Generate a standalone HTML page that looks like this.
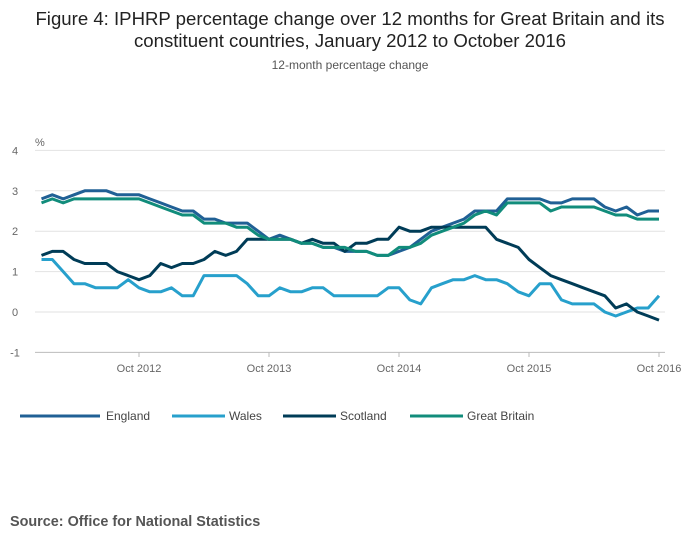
<!DOCTYPE html>
<html><head><meta charset="utf-8"><style>
body{margin:0;background:#fff;font-family:"Liberation Sans",sans-serif;}
</style></head><body>
<svg width="700" height="549" xmlns="http://www.w3.org/2000/svg">
<text x="350" y="25" text-anchor="middle" font-size="18.6" fill="#222">Figure 4: IPHRP percentage change over 12 months for Great Britain and its</text>
<text x="350" y="47" text-anchor="middle" font-size="18.6" fill="#222">constituent countries, January 2012 to October 2016</text>
<text x="350" y="69" text-anchor="middle" font-size="12" fill="#555">12-month percentage change</text>
<text x="35" y="146" font-size="11" fill="#666">%</text>
<g id="grid"></g><g id="series"></g><g id="xaxis"></g>
<g>
<line x1="20" y1="416" x2="100" y2="416" stroke="#206095" stroke-width="3"/>
<text x="106" y="420" font-size="12" fill="#444">England</text>
<line x1="172" y1="416" x2="225" y2="416" stroke="#27a0cc" stroke-width="3"/>
<text x="229" y="420" font-size="12" fill="#444">Wales</text>
<line x1="283" y1="416" x2="336" y2="416" stroke="#003c57" stroke-width="3"/>
<text x="340" y="420" font-size="12" fill="#444">Scotland</text>
<line x1="410" y1="416" x2="463" y2="416" stroke="#118c7b" stroke-width="3"/>
<text x="467" y="420" font-size="12" fill="#444">Great Britain</text>
</g>
<text x="10" y="526" font-size="14.4" font-weight="bold" fill="#555">Source: Office for National Statistics</text>
</svg>
<script>
const yTicks=[4,3,2,1,0,-1];
const xTickLabels=["Oct 2012","Oct 2013","Oct 2014","Oct 2015","Oct 2016"];
const xTickIdx=[9,21,33,45,57];
const england=[2.8,2.9,2.8,2.9,3.0,3.0,3.0,2.9,2.9,2.9,2.8,2.7,2.6,2.5,2.5,2.3,2.3,2.2,2.2,2.2,2.0,1.8,1.9,1.8,1.7,1.7,1.6,1.6,1.5,1.5,1.5,1.4,1.4,1.5,1.6,1.8,2.0,2.1,2.2,2.3,2.5,2.5,2.5,2.8,2.8,2.8,2.8,2.7,2.7,2.8,2.8,2.8,2.6,2.5,2.6,2.4,2.5,2.5];
const wales=[1.3,1.3,1.0,0.7,0.7,0.6,0.6,0.6,0.8,0.6,0.5,0.5,0.6,0.4,0.4,0.9,0.9,0.9,0.9,0.7,0.4,0.4,0.6,0.5,0.5,0.6,0.6,0.4,0.4,0.4,0.4,0.4,0.6,0.6,0.3,0.2,0.6,0.7,0.8,0.8,0.9,0.8,0.8,0.7,0.5,0.4,0.7,0.7,0.3,0.2,0.2,0.2,0.0,-0.1,0.0,0.1,0.1,0.4];
const scotland=[1.4,1.5,1.5,1.3,1.2,1.2,1.2,1.0,0.9,0.8,0.9,1.2,1.1,1.2,1.2,1.3,1.5,1.4,1.5,1.8,1.8,1.8,1.8,1.8,1.7,1.8,1.7,1.7,1.5,1.7,1.7,1.8,1.8,2.1,2.0,2.0,2.1,2.1,2.1,2.1,2.1,2.1,1.8,1.7,1.6,1.3,1.1,0.9,0.8,0.7,0.6,0.5,0.4,0.1,0.2,0.0,-0.1,-0.2];
const gb=[2.7,2.8,2.7,2.8,2.8,2.8,2.8,2.8,2.8,2.8,2.7,2.6,2.5,2.4,2.4,2.2,2.2,2.2,2.1,2.1,1.9,1.8,1.8,1.8,1.7,1.7,1.6,1.6,1.6,1.5,1.5,1.4,1.4,1.6,1.6,1.7,1.9,2.0,2.1,2.2,2.4,2.5,2.4,2.7,2.7,2.7,2.7,2.5,2.6,2.6,2.6,2.6,2.5,2.4,2.4,2.3,2.3,2.3];
const NS="http://www.w3.org/2000/svg";
function xs(i){return 41.5+i*(659-41.5)/57;}
function ys(v){return 312-v*40.4;}
const grid=document.getElementById('grid');
yTicks.forEach(t=>{
 const l=document.createElementNS(NS,'line');
 l.setAttribute('x1',35);l.setAttribute('x2',665);l.setAttribute('y1',ys(t));l.setAttribute('y2',ys(t));
 l.setAttribute('stroke',t===-1?'#bbb':'#e2e2e2');l.setAttribute('stroke-width',1);
 
 
 grid.appendChild(l);
 const tx=document.createElementNS(NS,'text');
 tx.setAttribute('x',15);tx.setAttribute('y',ys(t)+4);tx.setAttribute('font-size',11);tx.setAttribute('fill','#666');tx.setAttribute('text-anchor','middle');
 tx.textContent=t;
 
 
 grid.appendChild(tx);
});
const xa=document.getElementById('xaxis');
xTickIdx.forEach((ix,k)=>{
 const l=document.createElementNS(NS,'line');
 l.setAttribute('x1',xs(ix));l.setAttribute('x2',xs(ix));l.setAttribute('y1',352);l.setAttribute('y2',357);l.setAttribute('stroke','#bbb');
 
 
 xa.appendChild(l);
 const tx=document.createElementNS(NS,'text');
 tx.setAttribute('x',xs(ix));tx.setAttribute('y',372);tx.setAttribute('font-size',11);tx.setAttribute('fill','#666');tx.setAttribute('text-anchor','middle');
 tx.textContent=xTickLabels[k];
 
 
 xa.appendChild(tx);
});
const sg=document.getElementById('series');
[[england,'#206095','england-line'],[wales,'#27a0cc','wales-line'],[scotland,'#003c57','scotland-line'],[gb,'#118c7b','great-britain-line']].forEach(([d,c,n])=>{
 const p=document.createElementNS(NS,'polyline');
 p.setAttribute('points',d.map((v,i)=>xs(i).toFixed(1)+','+ys(v).toFixed(1)).join(' '));
 p.setAttribute('fill','none');p.setAttribute('stroke',c);p.setAttribute('stroke-width',3);p.setAttribute('stroke-linejoin','round');
 
 
 sg.appendChild(p);
});
</script>
</body></html>
